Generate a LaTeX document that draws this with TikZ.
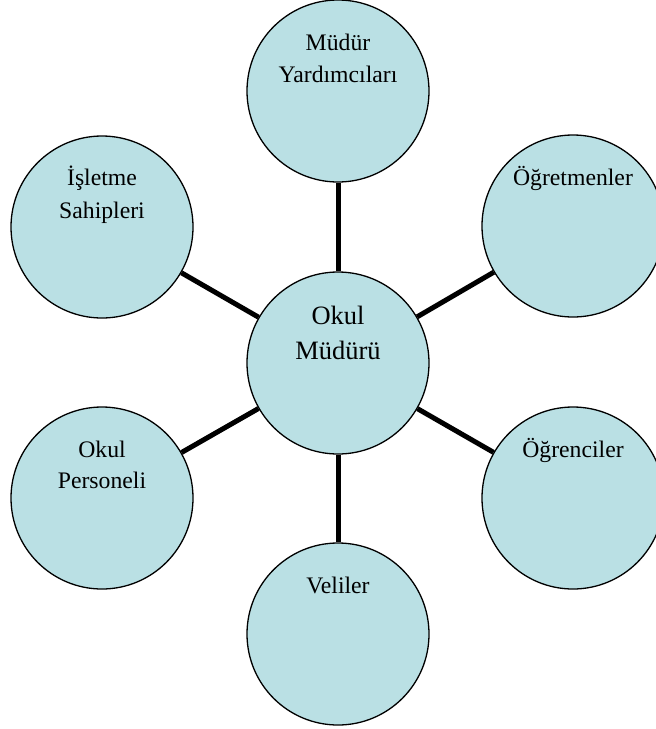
\documentclass[tikz,border=0pt]{standalone}
\usepackage{fontspec}
\setmainfont{Liberation Serif}
\definecolor{cfill}{RGB}{186,224,228}
\begin{document}
\begin{tikzpicture}[x=1pt,y=-1pt,
  bubble/.style={circle, draw=black, line width=1.3pt, fill=cfill, minimum size=182pt, inner sep=0pt},
  link/.style={line width=5pt, draw=black},
  lbl/.style={anchor=base, inner sep=0pt, font=\fontsize{23.7}{28}\selectfont},
  biglbl/.style={anchor=base, inner sep=0pt, font=\fontsize{26.5}{31}\selectfont}]
\useasboundingbox (0,0) rectangle (656,729);
\clip (0,0) rectangle (656,729);
\node[bubble] (mid) at (338,363) {};
\node[bubble] (top) at (338,91) {};
\node[bubble] (tr) at (573,226) {};
\node[bubble] (br) at (573,498) {};
\node[bubble] (bot) at (338,634) {};
\node[bubble] (bl) at (102,498) {};
\node[bubble] (tl) at (102,227) {};
\draw[link] (mid) -- (top);
\draw[link] (mid) -- (tr);
\draw[link] (mid) -- (br);
\draw[link] (mid) -- (bot);
\draw[link] (mid) -- (bl);
\draw[link] (mid) -- (tl);
\node[biglbl] (midA) at ([yshift=39pt]mid.center) {Okul};
\node[biglbl] (midB) at ([yshift=4pt]mid.center) {Müdürü};
\node[lbl] (topA) at ([yshift=41pt]top.center) {Müdür};
\node[lbl] (topB) at ([yshift=9pt]top.center) {Yardımcıları};
\node[lbl] (trA) at ([yshift=41pt]tr.center) {Öğretmenler};
\node[lbl] (brA) at ([yshift=41pt]br.center) {Öğrenciler};
\node[lbl] (botA) at ([yshift=41pt]bot.center) {Veliler};
\node[lbl] (blA) at ([yshift=41pt]bl.center) {Okul};
\node[lbl] (blB) at ([yshift=10pt]bl.center) {Personeli};
\node[lbl] (tlA) at ([yshift=42pt]tl.center) {İşletme};
\node[lbl] (tlB) at ([yshift=9pt]tl.center) {Sahipleri};
\end{tikzpicture}
\end{document}
